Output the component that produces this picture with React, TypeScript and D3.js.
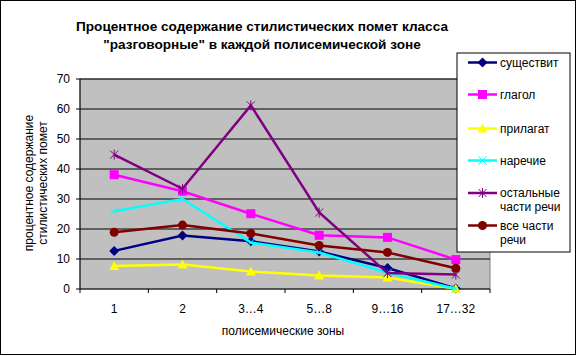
import React from "react";
import * as d3 from "d3";

const categories = ["1", "2", "3…4", "5…8", "9…16", "17…32"];
const yTicks = [0, 10, 20, 30, 40, 50, 60, 70];

const seriesNames = ["существит", "глагол", "прилагат", "наречие", "остальные части речи", "все части речи"];
const legendLines = [["существит"], ["глагол"], ["прилагат"], ["наречие"], ["остальные", "части речи"], ["все части", "речи"]];
const colors = ["#000080", "#FF00FF", "#FFFF00", "#00FFFF", "#800080", "#800000"];
const markers = ["diamond", "square", "triangle", "x", "star", "circle"];

const nouns = [12.7, 17.8, 15.9, 12.5, 7.0, 0.2];
const verbs = [38.1, 32.6, 25.1, 17.9, 17.2, 9.8];
const adjectives = [7.7, 8.2, 5.8, 4.5, 3.8, 0.1];
const adverbs = [25.9, 30.0, 15.5, 12.2, 5.4, 0.1];
const others = [44.8, 33.4, 61.2, 25.5, 5.3, 4.8];
const allParts = [18.9, 21.3, 18.5, 14.5, 12.2, 6.9];
const seriesValues = [nouns, verbs, adjectives, adverbs, others, allParts];

const W = 577, H = 356;
const plot = { left: 80, right: 490, top: 79, bottom: 289 };

function Marker({ type, x, y, color }: { type: string; x: number; y: number; color: string }) {
  switch (type) {
    case "diamond":
      return <path d={`M${x},${y - 5}L${x + 5},${y}L${x},${y + 5}L${x - 5},${y}Z`} fill={color} />;
    case "square":
      return <rect x={x - 4.5} y={y - 4.5} width={9} height={9} fill={color} />;
    case "triangle":
      return <path d={`M${x},${y - 5}L${x + 5},${y + 4}L${x - 5},${y + 4}Z`} fill={color} />;
    case "x":
      return <path d={`M${x - 4},${y - 4}L${x + 4},${y + 4}M${x + 4},${y - 4}L${x - 4},${y + 4}`} stroke={color} strokeWidth={1} />;
    case "star":
      return <path d={`M${x - 4},${y - 4}L${x + 4},${y + 4}M${x + 4},${y - 4}L${x - 4},${y + 4}M${x},${y - 5}L${x},${y + 5}`} stroke={color} strokeWidth={1} />;
    case "circle":
      return <circle cx={x} cy={y} r={4.5} fill={color} />;
  }
  return null;
}

export default function App() {
  const x = d3.scaleBand<string>().domain(categories).range([plot.left, plot.right]);
  const y = d3.scaleLinear().domain([0, 70]).range([plot.bottom, plot.top]);
  const line = d3.line<number>().x((_, i) => (x(categories[i]) as number) + x.bandwidth() / 2).y((d) => y(d));
  const font = "Liberation Sans, Arial, sans-serif";
  const legendX = 457, legendY = 53;
  const rowY = [62.5, 94.5, 128.5, 160.5, 193, 225.5];

  return (
    <svg width={W} height={H} style={{ position: "absolute", left: 0, top: 0, background: "#fff" }} fontFamily={font}>
      <rect x={0.5} y={0.5} width={575} height={354} fill="#fff" stroke="#000" strokeWidth={1} />
      <text x={262} y={31} textAnchor="middle" fontWeight="bold" fontSize={13.6}>Процентное содержание стилистических помет класса</text>
      <text x={262} y={48.5} textAnchor="middle" fontWeight="bold" fontSize={13.6}>"разговорные" в каждой полисемической зоне</text>

      <rect x={plot.left} y={plot.top} width={plot.right - plot.left} height={plot.bottom - plot.top} fill="#C0C0C0" stroke="#808080" />
      {yTicks.slice(1).map((t) => (
        <line key={t} x1={plot.left} x2={plot.right} y1={y(t)} y2={y(t)} stroke="#000" />
      ))}
      <line x1={plot.left} x2={plot.left} y1={plot.top} y2={plot.bottom} stroke="#000" />
      <line x1={plot.left} x2={plot.right} y1={plot.bottom} y2={plot.bottom} stroke="#000" />
      {yTicks.map((t) => (
        <g key={t}>
          <line x1={plot.left - 4} x2={plot.left} y1={y(t)} y2={y(t)} stroke="#000" />
          <text x={70} y={y(t) + 4} textAnchor="end" fontSize={12}>{t}</text>
        </g>
      ))}
      {categories.map((c, i) => (
        <line key={"t" + i} x1={(x(c) as number)} x2={(x(c) as number)} y1={plot.bottom} y2={plot.bottom + 4} stroke="#000" />
      ))}
      <line x1={plot.right} x2={plot.right} y1={plot.bottom} y2={plot.bottom + 4} stroke="#000" />
      {categories.map((c) => (
        <text key={c} x={(x(c) as number) + x.bandwidth() / 2} y={313} textAnchor="middle" fontSize={12}>{c}</text>
      ))}
      <text x={283} y={335} textAnchor="middle" fontSize={12}>полисемические зоны</text>
      <g transform="translate(0,183) rotate(-90)">
        <text x={0} y={33} textAnchor="middle" fontSize={12}>процентное содержание</text>
        <text x={0} y={47} textAnchor="middle" fontSize={12}>стилистических помет</text>
      </g>

      {seriesValues.map((vals, si) => (
        <g key={si}>
          <path d={line(vals) as string} fill="none" stroke={colors[si]} strokeWidth={2.5} />
          {vals.map((v, i) => (
            <Marker key={i} type={markers[si]} x={(x(categories[i]) as number) + x.bandwidth() / 2} y={y(v)} color={colors[si]} />
          ))}
        </g>
      ))}

      <rect x={legendX} y={legendY} width={113} height={199} fill="#fff" stroke="#000" />
      {seriesNames.map((n, i) => (
        <g key={n}>
          <line x1={468} x2={497} y1={rowY[i]} y2={rowY[i]} stroke={colors[i]} strokeWidth={2.5} />
          <Marker type={markers[i]} x={482.5} y={rowY[i]} color={colors[i]} />
          {legendLines[i].map((l, k) => (
            <text key={k} x={500} y={rowY[i] + 4 + k * 14} fontSize={12}>{l}</text>
          ))}
        </g>
      ))}
    </svg>
  );
}
